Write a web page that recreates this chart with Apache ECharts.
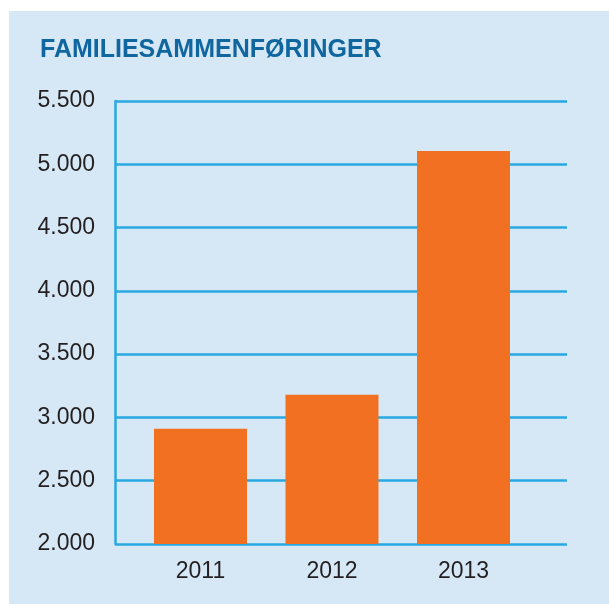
<!DOCTYPE html>
<html>
<head>
<meta charset="utf-8">
<script src="https://cdn.jsdelivr.net/npm/echarts@6/dist/echarts.min.js"></script>
<style>
html,body{margin:0;padding:0;background:#fff;}
#wrap{position:relative;width:609px;height:604px;}
#panel{position:absolute;left:9px;top:11px;right:0;bottom:0;background:#d6e8f5;}
#chart{position:absolute;left:0;top:0;width:609px;height:604px;}
</style>
</head>
<body>
<div id="wrap">
  <div id="panel"></div>
  <div id="chart"></div>
</div>
<script>
//data
var years = ['2011', '2012', '2013'];
var values = [2910, 3180, 5105];
var yTicks = [2000, 2500, 3000, 3500, 4000, 4500, 5000, 5500];

var barData = values.map(function (v, i) { return [i + 1, v]; });
var xPos = years.map(function (y, i) { return i + 1; });

function fmtNum(v) {
    return String(v).replace(/\B(?=(\d{3})+(?!\d))/g, '.');
}

var option = {
    backgroundColor: 'transparent',
    animation: false,
    title: {
        text: 'FAMILIESAMMENFØRINGER',
        left: 35,
        top: 33,
        textStyle: {
            color: '#10669f',
            fontFamily: 'Liberation Sans',
            fontWeight: 'bold',
            fontSize: 25
        }
    },
    grid: {
        left: 115,
        right: 42,
        top: 101,
        bottom: 60
    },
    xAxis: {
        type: 'value',
        min: 0.35,
        max: 3.787,
        splitLine: { show: false },
        axisLine: { show: false },
        axisTick: { show: false },
        axisLabel: {
            customValues: xPos,
            margin: 16,
            color: '#231f20',
            fontFamily: 'Liberation Sans',
            fontSize: 23,
            formatter: function (v) {
                return years[Math.round(v) - 1] || '';
            }
        }
    },
    yAxis: {
        type: 'value',
        min: yTicks[0],
        max: yTicks[yTicks.length - 1],
        interval: 500,
        axisLine: {
            show: true,
            lineStyle: { color: '#29a9e1', width: 2.5 }
        },
        axisTick: { show: false },
        splitLine: {
            show: true,
            lineStyle: { color: '#29a9e1', width: 2.5 }
        },
        axisLabel: {
            margin: 20,
            color: '#231f20',
            fontFamily: 'Liberation Sans',
            fontSize: 23,
            formatter: function (v) { return fmtNum(v); }
        }
    },
    series: [{
        type: 'bar',
        barWidth: 93,
        itemStyle: { color: '#f27021' },
        data: barData
    }]
};

var chart = echarts.init(document.getElementById('chart'), null, { renderer: 'canvas' });
chart.setOption(option);
</script>
</body>
</html>
